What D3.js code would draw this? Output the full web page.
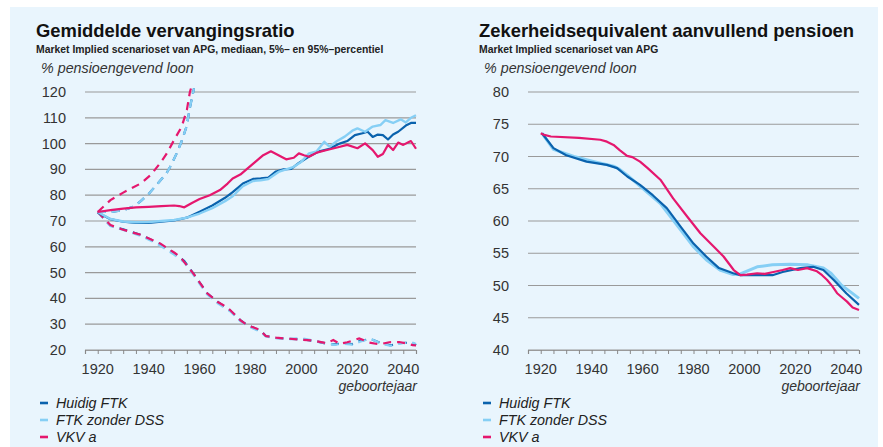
<!DOCTYPE html>
<html>
<head>
<meta charset="utf-8">
<script src="https://cdn.jsdelivr.net/npm/d3@7"></script>
<style>
  body { margin: 0; background: #fff; }
  svg { display: block; font-family: "Liberation Sans", Arial, sans-serif; }
</style>
</head>
<body>
<svg id="chart" width="883" height="447"></svg>
<script>
// ---- data ----
var seriesNames = ["Huidig FTK", "FTK zonder DSS", "VKV a"];
var seriesColors = ["#0a62ad", "#86cff5", "#e5176e"];

var xTicks = [1920, 1940, 1960, 1980, 2000, 2020, 2040];
var leftTicks = [20, 30, 40, 50, 60, 70, 80, 90, 100, 110, 120];
var rightTicks = [40, 45, 50, 55, 60, 65, 70, 75, 80];

// left: median
var ftkMedYears = [1920, 1925, 1930, 1935, 1940, 1945, 1950, 1955, 1960, 1965, 1970, 1973, 1977, 1981, 1984, 1987, 1990, 1993, 1996, 1999, 2003, 2007, 2011, 2015, 2018, 2021, 2024, 2026, 2028, 2030, 2032, 2034, 2036, 2038, 2041, 2043, 2045];
var ftkMedVals  = [73.3, 70.7, 69.7, 69.3, 69.3, 69.7, 70.2, 71.3, 73.6, 76.0, 79.0, 81.2, 84.5, 86.3, 86.5, 86.8, 89.2, 90.0, 90.2, 92.5, 95.0, 97.0, 98.0, 100.0, 101.0, 103.3, 104.0, 104.6, 102.6, 103.5, 103.3, 101.6, 103.5, 104.6, 107.0, 108.0, 108.0];
var dssMedYears = [1920, 1925, 1930, 1935, 1940, 1945, 1950, 1955, 1960, 1965, 1970, 1973, 1977, 1981, 1984, 1987, 1991, 1994, 1997, 2000, 2003, 2006, 2009, 2011, 2014, 2017, 2020, 2022, 2025, 2028, 2031, 2033, 2036, 2039, 2041, 2043, 2045];
var dssMedVals  = [73.5, 70.8, 69.8, 69.5, 69.6, 70.0, 70.4, 71.3, 72.9, 75.0, 77.7, 79.6, 83.5, 85.5, 85.8, 86.3, 89.0, 90.0, 91.0, 93.0, 96.2, 97.0, 100.7, 98.8, 101.0, 102.7, 105.0, 105.9, 104.6, 106.6, 107.2, 109.1, 108.0, 109.4, 108.2, 110.0, 111.0];
var vkvMedYears = [1920, 1925, 1930, 1935, 1940, 1945, 1950, 1952, 1954, 1957, 1960, 1964, 1968, 1971, 1973, 1976, 1979, 1982, 1985, 1988, 1991, 1994, 1997, 1999, 2001, 2003, 2006, 2010, 2014, 2018, 2022, 2025, 2028, 2030, 2032, 2034, 2036, 2038, 2040, 2042, 2043, 2045];
var vkvMedVals  = [73.5, 74.2, 74.8, 75.3, 75.5, 75.8, 76.0, 75.8, 75.3, 77.0, 78.5, 80.0, 82.0, 84.5, 86.5, 88.0, 90.5, 93.0, 95.5, 97.0, 95.5, 93.9, 94.5, 96.2, 95.5, 94.9, 96.5, 97.5, 98.5, 99.5, 98.2, 100.1, 97.5, 94.9, 96.0, 99.5, 97.5, 100.4, 99.5, 100.5, 101.0, 98.0];

// left: 95% percentile (goes off the top)
var ftkHiYears = [1920, 1925, 1930, 1934, 1937, 1940, 1944, 1947, 1949, 1951, 1953, 1955, 1956, 1957.8];
var ftkHiVals  = [73.5, 73.5, 74.2, 75.5, 77.8, 80.5, 85.0, 88.5, 92.0, 96.2, 101.0, 107.0, 113.0, 121.4];
var dssHiYears = ftkHiYears;
var dssHiVals  = ftkHiVals;
var vkvHiYears = [1920, 1925, 1930, 1937, 1941, 1944.5, 1947, 1950, 1953, 1955, 1956.2, 1956.8];
var vkvHiVals  = [73.5, 78.1, 81.0, 84.6, 88.0, 92.4, 96.0, 101.4, 106.6, 113.0, 120.0, 122.0];

// left: 5% percentile
var ftkLoYears = [1920, 1925, 1930, 1937, 1944, 1950, 1954, 1957.5, 1963, 1967, 1972, 1976, 1979, 1984, 1986, 1990, 1995, 2000, 2005, 2010, 2013, 2016, 2020, 2023, 2027, 2031, 2035, 2038, 2041, 2044, 2045];
var ftkLoVals  = [73.5, 68.2, 66.8, 64.6, 61.3, 57.5, 54.5, 49.7, 42.0, 38.7, 35.3, 31.6, 29.5, 27.5, 25.4, 24.7, 24.3, 24.2, 23.5, 22.4, 22.2, 22.6, 22.3, 23.5, 24.3, 22.8, 21.8, 22.6, 22.8, 22.5, 21.8];
var dssLoYears = [1920, 1925, 1930, 1937, 1944, 1950, 1954, 1957.5, 1963, 1967, 1972, 1976, 1979, 1984, 1986, 1990, 1995, 2000, 2005, 2010, 2013, 2016, 2020, 2023, 2027, 2031, 2035, 2038, 2041, 2044, 2045];
var dssLoVals  = [73.5, 68.0, 66.5, 64.2, 60.8, 57.0, 54.0, 49.2, 41.5, 38.2, 35.0, 31.2, 29.2, 27.0, 25.2, 24.6, 24.2, 24.6, 23.6, 22.5, 22.0, 22.4, 22.1, 23.2, 24.4, 22.6, 21.6, 22.4, 22.8, 22.8, 22.3];
var vkvLoYears = [1920, 1925, 1930, 1937, 1944.5, 1950, 1952.3, 1957.5, 1963, 1967, 1970, 1972, 1976, 1978.5, 1981, 1983.7, 1986, 1990, 1993, 1999, 2005, 2010, 2012.5, 2015, 2018, 2020, 2022.7, 2026.6, 2030.6, 2034.5, 2038.4, 2041, 2043.7, 2045];
var vkvLoVals  = [73.5, 68.4, 66.6, 64.6, 61.3, 57.8, 56.2, 49.7, 42.0, 38.7, 37.0, 35.5, 31.6, 29.7, 28.8, 27.8, 25.4, 24.8, 24.5, 24.1, 23.6, 22.6, 23.9, 22.4, 23.0, 23.6, 24.5, 22.9, 22.2, 23.0, 23.1, 22.6, 21.9, 21.8];

// right: zekerheidsequivalent
var ftkZeYears = [1920.5, 1925, 1930, 1938, 1946, 1950, 1954, 1959, 1964, 1969.5, 1975, 1980, 1985, 1990, 1995.6, 1998.4, 2004, 2011, 2015, 2022, 2027, 2031, 2035, 2040, 2045];
var ftkZeVals  = [73.6, 71.3, 70.2, 69.2, 68.7, 68.2, 66.9, 65.6, 64.0, 62.0, 59.1, 56.5, 54.5, 52.7, 51.9, 51.6, 51.6, 51.6, 52.1, 52.7, 52.9, 52.4, 50.9, 48.8, 47.0];
var dssZeYears = [1920.5, 1925, 1933, 1941, 1948.6, 1951, 1954, 1959, 1967, 1975, 1980, 1985, 1990.4, 1995.6, 1998.4, 2005, 2011, 2018, 2025, 2031, 2034, 2038, 2041, 2045];
var dssZeVals  = [73.6, 71.1, 70.0, 69.2, 68.5, 68.0, 67.1, 65.4, 62.7, 58.6, 56.0, 54.0, 52.4, 51.7, 51.8, 52.9, 53.2, 53.3, 53.2, 52.7, 51.9, 50.1, 49.2, 48.0];
var vkvZeYears = [1920, 1921, 1924, 1935, 1943.4, 1946, 1948.6, 1951, 1953.9, 1956, 1959, 1962, 1967, 1972, 1977.5, 1982.7, 1988, 1991.8, 1995.8, 1998.4, 2001, 2005, 2008, 2011.4, 2015, 2018, 2021, 2024.6, 2028.5, 2030.5, 2032.4, 2034.5, 2036.4, 2038.5, 2040.3, 2042.5, 2045];
var vkvZeVals  = [73.6, 73.4, 73.1, 72.9, 72.6, 72.3, 71.8, 71.0, 70.1, 69.9, 69.2, 68.2, 66.4, 63.5, 60.7, 58.1, 56.0, 54.5, 52.4, 51.6, 51.7, 51.9, 51.8, 52.1, 52.4, 52.7, 52.4, 52.7, 52.2, 51.6, 50.9, 49.9, 48.8, 48.1, 47.5, 46.6, 46.2];

// ---- drawing ----
var svg = d3.select("#chart");

svg.append("rect")
  .attr("x", 10).attr("y", 7)
  .attr("width", 868).attr("height", 440)
  .attr("fill", "#e9f5fd");

function zip(years, vals) {
  return years.map(function(y, i) { return {year: y, value: vals[i]}; });
}

function panel(opt) {
  var g = svg.append("g");

  var x = d3.scaleLinear().domain([1915, 2045]).range([opt.left, opt.right]);
  var y = d3.scaleLinear().domain(opt.yDomain).range([350, 92]);

  g.append("text")
    .attr("x", opt.titleX).attr("y", 37)
    .attr("font-size", 18.4).attr("font-weight", "bold").attr("fill", "#111")
    .text(opt.title);
  g.append("text")
    .attr("x", opt.titleX).attr("y", 53)
    .attr("font-size", 10.4).attr("font-weight", "bold").attr("fill", "#222")
    .text(opt.subtitle);
  g.append("text")
    .attr("x", opt.titleX + 5).attr("y", 73)
    .attr("font-size", 14.3).attr("font-style", "italic").attr("fill", "#333")
    .text("% pensioengevend loon");

  // gridlines
  g.selectAll(".grid")
    .data(opt.yTicks)
    .enter().append("line")
    .attr("x1", opt.left).attr("x2", opt.right)
    .attr("y1", function(d) { return y(d); })
    .attr("y2", function(d) { return y(d); })
    .attr("stroke", "#9a9a9a").attr("stroke-width", 1.2);

  // y labels
  g.selectAll(".ylab")
    .data(opt.yTicks)
    .enter().append("text")
    .attr("x", opt.left - 19)
    .attr("y", function(d) { return y(d) + 5; })
    .attr("text-anchor", "end")
    .attr("font-size", 14.5).attr("fill", "#333")
    .text(function(d) { return d; });

  // x axis: minor ticks every 5 years
  var xAxis = d3.axisBottom(x)
    .tickValues(d3.range(1915, 2046, 5))
    .tickSize(4)
    .tickFormat("");
  var ax = g.append("g")
    .attr("transform", "translate(0,350)")
    .call(xAxis);
  ax.select(".domain").attr("stroke", "#9a9a9a").attr("stroke-width", 1.2);
  ax.selectAll(".tick line").attr("stroke", "#888");

  g.selectAll(".xlab")
    .data(xTicks)
    .enter().append("text")
    .attr("x", function(d) { return x(d); })
    .attr("y", 374)
    .attr("text-anchor", "middle")
    .attr("font-size", 14.5).attr("fill", "#333")
    .text(function(d) { return d; });

  g.append("text")
    .attr("x", opt.right + 1).attr("y", 391)
    .attr("text-anchor", "end")
    .attr("font-size", 14).attr("font-style", "italic").attr("fill", "#333")
    .text("geboortejaar");

  var line = d3.line()
    .x(function(d) { return x(d.year); })
    .y(function(d) { return y(d.value); })
    .curve(d3.curveLinear);

  (opt.dashed || []).forEach(function(s) {
    g.append("path")
      .datum(s.data)
      .attr("d", line)
      .attr("fill", "none")
      .attr("stroke", s.color)
      .attr("stroke-width", 2.2)
      .attr("stroke-dasharray", "8,6");
  });

  opt.solid.forEach(function(s) {
    g.append("path")
      .datum(s.data)
      .attr("d", line)
      .attr("fill", "none")
      .attr("stroke", s.color)
      .attr("stroke-width", s.width)
      .attr("stroke-linejoin", "round");
  });

  // legend
  var leg = g.selectAll(".leg")
    .data(seriesNames)
    .enter().append("g")
    .attr("transform", function(d, i) { return "translate(" + opt.legX + "," + (408 + i * 17) + ")"; });
  leg.append("line")
    .attr("x1", 0).attr("x2", 8)
    .attr("y1", -5).attr("y2", -5)
    .attr("stroke", function(d, i) { return seriesColors[i]; })
    .attr("stroke-width", 2.6);
  leg.append("text")
    .attr("x", 16).attr("y", 0)
    .attr("font-size", 14.3).attr("font-style", "italic").attr("fill", "#222")
    .text(function(d) { return d; });
}

panel({
  left: 85, right: 416, titleX: 36, legX: 40,
  yDomain: [20, 120], yTicks: leftTicks,
  title: "Gemiddelde vervangingsratio",
  subtitle: "Market Implied scenarioset van APG, mediaan, 5%\u2013 en 95%\u2013percentiel",
  dashed: [
    {data: zip(ftkHiYears, ftkHiVals), color: seriesColors[0]},
    {data: zip(ftkLoYears, ftkLoVals), color: seriesColors[0]},
    {data: zip(dssHiYears, dssHiVals), color: seriesColors[1]},
    {data: zip(dssLoYears, dssLoVals), color: seriesColors[1]},
    {data: zip(vkvHiYears, vkvHiVals), color: seriesColors[2]},
    {data: zip(vkvLoYears, vkvLoVals), color: seriesColors[2]}
  ],
  solid: [
    {data: zip(ftkMedYears, ftkMedVals), color: seriesColors[0], width: 2.2},
    {data: zip(dssMedYears, dssMedVals), color: seriesColors[1], width: 2.4},
    {data: zip(vkvMedYears, vkvMedVals), color: seriesColors[2], width: 2.2}
  ]
});

panel({
  left: 528, right: 859, titleX: 479, legX: 483,
  yDomain: [40, 80], yTicks: rightTicks,
  title: "Zekerheidsequivalent aanvullend pensioen",
  subtitle: "Market Implied scenarioset van APG",
  solid: [
    {data: zip(dssZeYears, dssZeVals), color: seriesColors[1], width: 3},
    {data: zip(ftkZeYears, ftkZeVals), color: seriesColors[0], width: 2.2},
    {data: zip(vkvZeYears, vkvZeVals), color: seriesColors[2], width: 2.2}
  ]
});
</script>
</body>
</html>
